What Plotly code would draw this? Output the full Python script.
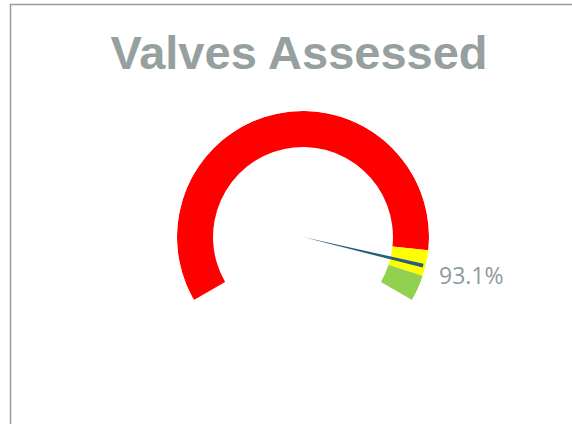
import math
import plotly.graph_objects as go

# ---- data ----
band_names = ["Poor", "Fair", "Good"]
band_starts = [0.0, 0.90, 0.95]
band_ends = [0.90, 0.95, 1.00]
band_colors = ["#FF0000", "#FFFF00", "#92D050"]
value = 0.931
value_label = "93.1%"
title_text = "Valves Assessed"

# ---- gauge geometry ----
SWEEP = 240.0          # degrees covered by 0..100 %
START = 210.0          # math angle (deg) of 0 %
INNER = 0.714          # inner radius of the ring (fraction of outer)
NEEDLE_LEN = 0.98
NEEDLE_W = 1.8         # degrees
LABEL_R = 1.37

fig = go.Figure()

fig.add_trace(go.Barpolar(
    theta=[(s + e) / 2 * SWEEP for s, e in zip(band_starts, band_ends)],
    width=[(e - s) * SWEEP for s, e in zip(band_starts, band_ends)],
    r=[1 - INNER] * len(band_starts),
    base=[INNER] * len(band_starts),
    marker=dict(color=band_colors, line=dict(width=0)),
    text=band_names,
    hoverinfo="text",
    showlegend=False,
))

fig.add_trace(go.Barpolar(
    theta=[value * SWEEP],
    width=[NEEDLE_W],
    r=[NEEDLE_LEN],
    base=[0],
    marker=dict(color="#245E80", line=dict(width=0)),
    hoverinfo="skip",
    showlegend=False,
))

W, H = 572, 424
cx, cy, R = 303, 237, 126

# value label placed beside the needle tip
ang = math.radians(START - value * SWEEP + 0.8)
lx = (cx + LABEL_R * R * math.cos(ang)) / W
ly = (H - cy + LABEL_R * R * math.sin(ang)) / H

fig.update_layout(
    width=W, height=H,
    margin=dict(l=0, r=0, t=0, b=0),
    paper_bgcolor="white",
    plot_bgcolor="white",
    polar=dict(
        domain=dict(x=[(cx - R) / W, (cx + R) / W],
                    y=[(H - cy - R) / H, (H - cy + R) / H]),
        bgcolor="rgba(0,0,0,0)",
        radialaxis=dict(range=[0, 1], visible=False, showgrid=False),
        angularaxis=dict(visible=False, showgrid=False, direction="clockwise",
                         rotation=START, thetaunit="degrees"),
    ),
    title=dict(text=title_text, x=299 / W, xanchor="center",
               y=1 - 36 / H, yanchor="top",
               font=dict(family="Liberation Sans", size=47, color="#95A09F",
                         weight="bold")),
    annotations=[dict(text=value_label, x=lx, y=ly, xref="paper", yref="paper",
                      xanchor="center", yanchor="middle", showarrow=False,
                      font=dict(family="Open Sans", size=23, color="#8E9A9A"))],
    shapes=[dict(type="rect", xref="paper", yref="paper",
                 x0=10.5 / W, x1=1.1, y0=-0.1, y1=1 - 4.5 / H,
                 line=dict(color="#95A09F", width=1.5),
                 fillcolor="rgba(0,0,0,0)", layer="below")],
)

fig.write_html("out.html",
               config={"displayModeBar": False},
               post_script="document.body.style.margin='0';")
